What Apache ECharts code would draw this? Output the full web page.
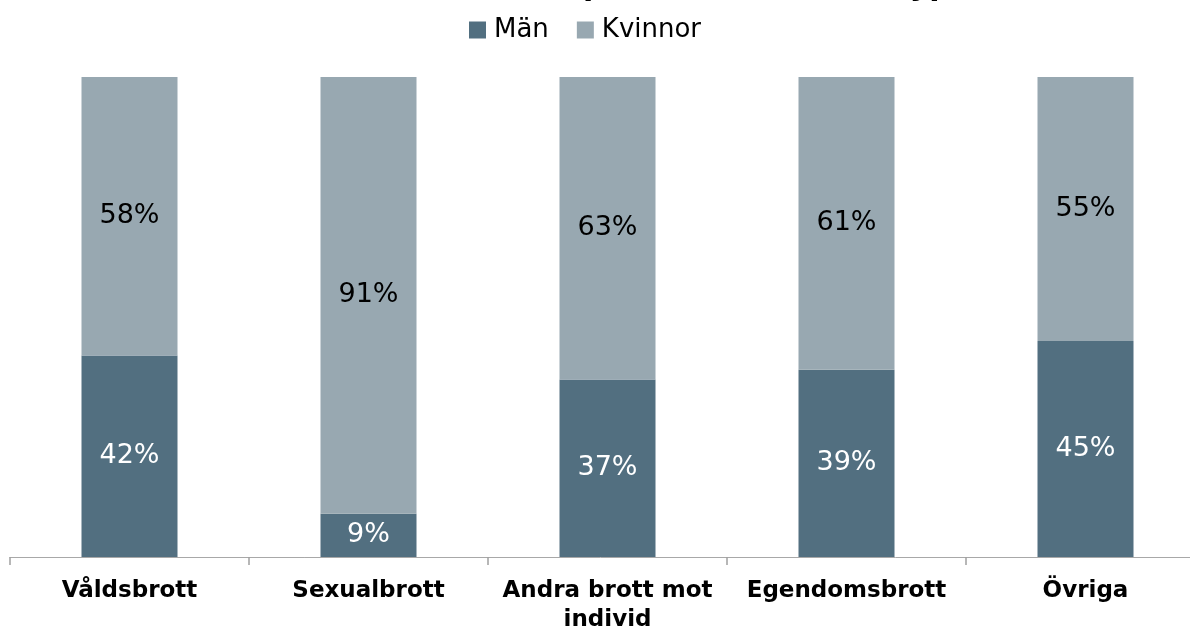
<!DOCTYPE html>
<html>
<head>
<meta charset="utf-8">
<title>Män och kvinnor per brottstyp</title>
<script src="https://cdn.jsdelivr.net/npm/echarts@6/dist/echarts.min.js"></script>
<style>
	html, body { margin: 0; padding: 0; background: #fff; }
	#chart { width: 1190px; height: 628px; }
</style>
</head>
<body>
<div id="chart"></div>
<script>
	// kategorier och andelar (procent)
	const categories = ['Våldsbrott', 'Sexualbrott', 'Andra brott mot\nindivid', 'Egendomsbrott', 'Övriga']
	const man = [42, 9, 37, 39, 45]
	const kvinnor = [58, 91, 63, 61, 55]
	const seriesNames = ['Män', 'Kvinnor']

	const colorMan = '#526f80'
	const colorKvinnor = '#98a8b1'
	const font = 'DejaVu Sans, Verdana, sans-serif'

	const myChart = echarts.init(document.getElementById('chart'))
	myChart.setOption({
		animation: false,
		textStyle: { fontFamily: font },
		title: {
			// titeln är avskuren i originalet, bara underkanten syns
			text: 'Andel brottsutsatta per kön och brottstyp',
			left: 'center',
			top: -33,
			textStyle: { fontSize: 30, fontWeight: 'bold', color: '#000', fontFamily: font }
		},
		legend: {
			data: seriesNames,
			left: 464,
			top: 12,
			itemWidth: 17,
			itemHeight: 17,
			itemGap: 28,
			icon: 'rect',
			textStyle: { fontSize: 26, color: '#000', fontFamily: font, padding: [0, 0, 0, 3] }
		},
		grid: {
			left: 10,
			right: -15,
			top: 77,
			bottom: 71,
			containLabel: false,
			outerBoundsMode: 'none'
		},
		xAxis: {
			type: 'category',
			data: categories,
			axisLine: { lineStyle: { color: '#a8a8a8', width: 1 } },
			axisTick: { show: true, length: 8, lineStyle: { color: '#a0a0a0', width: 1.5 } },
			axisLabel: {
				interval: 0,
				margin: 20,
				fontSize: 23,
				fontWeight: 'bold',
				color: '#000',
				lineHeight: 29,
				fontFamily: font
			}
		},
		yAxis: {
			type: 'value',
			min: 0,
			max: 100,
			show: false,
			splitLine: { show: false }
		},
		series: [{
			name: seriesNames[0],
			type: 'bar',
			stack: 'kon',
			barWidth: 96,
			data: man,
			itemStyle: { color: colorMan },
			label: {
				show: true,
				position: 'inside',
				formatter: '{c}%',
				fontSize: 27,
				color: '#fff',
				fontFamily: font
			}
		}, {
			name: seriesNames[1],
			type: 'bar',
			stack: 'kon',
			barWidth: 96,
			data: kvinnor,
			itemStyle: { color: colorKvinnor },
			label: {
				show: true,
				position: 'inside',
				formatter: '{c}%',
				fontSize: 27,
				color: '#000',
				fontFamily: font
			}
		}]
	})
</script>
</body>
</html>
